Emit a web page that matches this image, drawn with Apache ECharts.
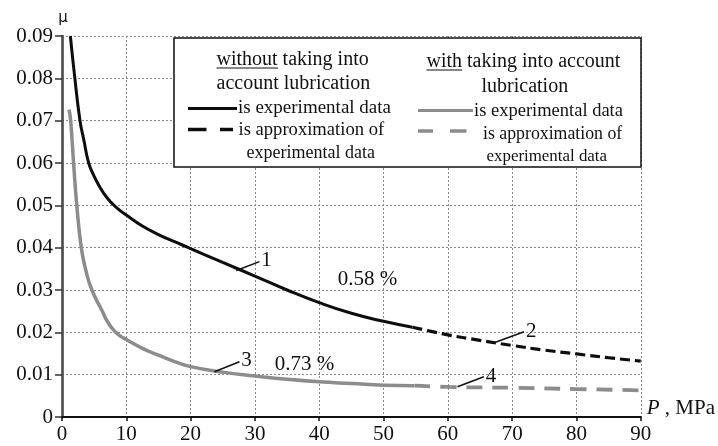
<!DOCTYPE html>
<html>
<head>
<meta charset="utf-8">
<script src="https://cdn.jsdelivr.net/npm/echarts@6/dist/echarts.min.js"></script>
<style>
  html, body { margin: 0; padding: 0; background: #fff; }
  #chart { width: 718px; height: 446px; }
</style>
</head>
<body>
<div id="chart"></div>
<script>
// Friction coefficient μ versus contact pressure P (MPa)

// Curve 1: without lubrication, experimental data
const dryExpP  = [1.3, 2.0, 2.8, 3.4, 4.15, 4.9, 5.7, 7.0, 8.3, 10, 12.5, 15, 17.5, 20, 25, 30, 35, 40, 45, 50, 54.5];
const dryExpMu = [0.090, 0.080, 0.070, 0.0654, 0.060, 0.0572, 0.0548, 0.0518, 0.0497, 0.0477, 0.0451, 0.0431, 0.0414, 0.0398, 0.0365, 0.0333, 0.0300, 0.0270, 0.0245, 0.0226, 0.0212];

// Curve 2: without lubrication, approximation
const dryFitP  = [54.5, 57.2, 60, 65, 70, 75, 80, 85, 90];
const dryFitMu = [0.0212, 0.0203, 0.0194, 0.0181, 0.0169, 0.0158, 0.0149, 0.0140, 0.0132];

// Curve 3: with lubrication, experimental data
const lubExpP  = [1.1, 1.35, 1.8, 2.3, 3.0, 3.7, 4.65, 6.2, 7.2, 8.3, 9.1, 10, 12.5, 15, 17.5, 20, 25, 30, 35, 40, 45, 50, 54.8];
const lubExpMu = [0.0726, 0.070, 0.060, 0.050, 0.040, 0.0347, 0.030, 0.0252, 0.0222, 0.0201, 0.0191, 0.0183, 0.0162, 0.0146, 0.0131, 0.0119, 0.0106, 0.0097, 0.0089, 0.0083, 0.0079, 0.0075, 0.0074];

// Curve 4: with lubrication, approximation
const lubFitP  = [54.8, 60, 70, 80, 90];
const lubFitMu = [0.0074, 0.0071, 0.0069, 0.0066, 0.0063];

// Axis ticks
const xTicks = [0, 10, 20, 30, 40, 50, 60, 70, 80, 90];
const yTicks = [0, 0.01, 0.02, 0.03, 0.04, 0.05, 0.06, 0.07, 0.08, 0.09];

// Curve numbers with their leader lines (from point -> to point)
const leaderText = ['1', '2', '3', '4'];
const leaderFrom = [[27.1, 0.0346], [67.2, 0.01755], [23.7, 0.0107], [61.5, 0.00716]];
const leaderTo   = [[30.7, 0.0367], [71.85, 0.02015], [27.6, 0.01306], [65.6, 0.00952]];

// Approximation error notes
const noteText = ['0.58 %', '0.73 %'];
const notePos  = [[47.5, 0.0324], [37.7, 0.0123]];

const SERIF = '"Liberation Serif", "Times New Roman", serif';
const BLACK = '#0d0d0d';
const GREY = '#8c8c8c';

function zip(xs, ys) { return xs.map((x, i) => [x, ys[i]]); }

const chart = echarts.init(document.getElementById('chart'), null, { renderer: 'canvas' });

// Legend box drawn as graphics
function txt(x, y, s, size) {
  return { type: 'text', x: x, y: y, z: 100,
    style: { text: s, textAlign: 'left', textVerticalAlign: 'middle',
      fontFamily: SERIF, fontSize: size, fill: '#111' } };
}
function seg(x1, y1, x2, y2, color, w) {
  return { type: 'line', z: 100, shape: { x1: x1, y1: y1, x2: x2, y2: y2 },
    style: { stroke: color, lineWidth: w } };
}

const legendGraphics = [
  { type: 'rect', z: 99, shape: { x: 174, y: 38, width: 467, height: 129 },
    style: { fill: '#fff', stroke: '#111', lineWidth: 1.5 } },
  txt(216.5, 59.5, 'without taking into', 20),
  seg(216.5, 68, 278, 68, '#111', 1),
  txt(216.5, 83.5, 'account lubrication', 20),
  seg(188, 108.5, 237, 108.5, BLACK, 3),
  txt(238, 108.5, 'is experimental data', 19),
  seg(188, 129.5, 206.5, 129.5, BLACK, 3.5),
  seg(220, 129.5, 233, 129.5, BLACK, 3.5),
  txt(238.5, 130.5, 'is approximation of', 18.6),
  txt(246.5, 153.5, 'experimental data', 18),

  txt(426.5, 61.5, 'with taking into account', 20),
  seg(426.5, 70, 462, 70, '#111', 1),
  txt(481.5, 86.5, 'lubrication', 20),
  seg(418, 110.5, 473, 110.5, GREY, 3),
  txt(474, 111, 'is experimental data', 18.5),
  seg(418, 131, 433, 131, GREY, 3.5),
  seg(450, 131, 466.5, 131, GREY, 3.5),
  txt(483, 134.5, 'is approximation of', 17.8),
  txt(486.5, 156.5, 'experimental data', 16.9)
];

const option = {
  animation: false,
  backgroundColor: '#fff',
  textStyle: { fontFamily: SERIF },
  grid: { left: 62, right: 76, top: 36, bottom: 29, containLabel: false },
  xAxis: {
    type: 'value',
    min: xTicks[0],
    max: xTicks[xTicks.length - 1],
    interval: xTicks[1] - xTicks[0],
    name: '{it|P} , MPa',
    nameLocation: 'end',
    nameGap: 6,
    nameTextStyle: {
      fontFamily: SERIF, fontSize: 21, color: '#111',
      verticalAlign: 'bottom', padding: [0, 0, -2, 0],
      rich: { it: { fontFamily: SERIF, fontSize: 21, fontStyle: 'italic', color: '#111' } }
    },
    axisLine: { show: true, onZero: false, lineStyle: { color: '#111', width: 2 } },
    axisTick: { show: true, inside: false, length: 4, lineStyle: { color: '#111', width: 1.5 } },
    axisLabel: { show: true, margin: 7, fontFamily: SERIF, fontSize: 21, color: '#111' },
    splitLine: { show: true, lineStyle: { color: '#8a8a8a', width: 1, type: [2, 2] } }
  },
  yAxis: {
    type: 'value',
    min: yTicks[0],
    max: yTicks[yTicks.length - 1],
    interval: 0.01,
    name: 'μ',
    nameLocation: 'end',
    nameGap: 7,
    nameTextStyle: { fontFamily: '"DejaVu Sans", sans-serif', fontSize: 15, color: '#111', padding: [0, 0, 0, 2] },
    axisLine: { show: true, onZero: false, lineStyle: { color: '#4a4a4a', width: 2.6 } },
    axisTick: { show: true, inside: false, length: 7, lineStyle: { color: '#333', width: 1.5 } },
    axisLabel: {
      show: true, margin: 9, fontFamily: SERIF, fontSize: 21, color: '#111',
      formatter: v => (v === 0 ? '0' : v.toFixed(2))
    },
    splitLine: { show: true, lineStyle: { color: '#8a8a8a', width: 1, type: [2, 2] } }
  },
  graphic: legendGraphics,
  series: [
    {
      name: 'without lubrication, experimental',
      type: 'line', data: zip(dryExpP, dryExpMu),
      smooth: 0.5, showSymbol: false, z: 5,
      lineStyle: { color: BLACK, width: 3 }
    },
    {
      name: 'without lubrication, approximation',
      type: 'line', data: zip(dryFitP, dryFitMu),
      smooth: 0.5, showSymbol: false, z: 5,
      lineStyle: { color: BLACK, width: 3.2, type: [10, 5] }
    },
    {
      name: 'with lubrication, experimental',
      type: 'line', data: zip(lubExpP, lubExpMu),
      smooth: 0.5, showSymbol: false, z: 4,
      lineStyle: { color: GREY, width: 3.5 }
    },
    {
      name: 'with lubrication, approximation',
      type: 'line', data: zip(lubFitP, lubFitMu),
      smooth: 0.5, showSymbol: false, z: 4,
      lineStyle: { color: GREY, width: 3.8, type: [16, 10] }
    },
    {
      name: 'curve numbers',
      type: 'lines',
      coordinateSystem: 'cartesian2d',
      z: 6,
      lineStyle: { color: '#111', width: 1.5, opacity: 1, curveness: 0 },
      label: {
        show: true, position: 'end', distance: 2,
        fontFamily: SERIF, fontSize: 21, color: '#111',
        formatter: p => p.name
      },
      data: leaderText.map((t, i) => ({ name: t, coords: [leaderFrom[i], leaderTo[i]] }))
    },
    {
      name: 'approximation error',
      type: 'scatter',
      symbolSize: 0,
      z: 6,
      itemStyle: { opacity: 1 },
      label: {
        show: true, position: 'inside',
        fontFamily: SERIF, fontSize: 21, color: '#111', opacity: 1,
        formatter: p => p.data.text
      },
      data: noteText.map((t, i) => ({ value: notePos[i], text: t }))
    }
  ]
};

chart.setOption(option);
</script>
</body>
</html>
